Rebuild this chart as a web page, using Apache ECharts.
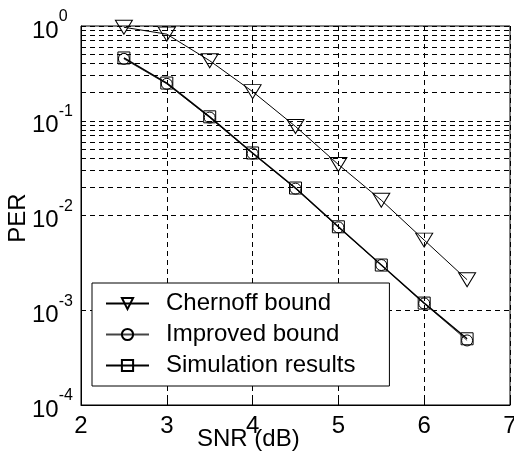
<!DOCTYPE html>
<html><head><meta charset="utf-8">
<script src="https://cdn.jsdelivr.net/npm/echarts@6/dist/echarts.min.js"></script>
<style>html,body{margin:0;padding:0;background:#fff}#c{width:514px;height:457px}</style>
</head><body><div id="c"></div>
<script>
const snr = [2.5, 3, 3.5, 4, 4.5, 5, 5.5, 6, 6.5];
const chernoff = [0.97, 0.82, 0.43, 0.203, 0.087, 0.0345, 0.0145, 0.0055, 0.0021];
const improved = [0.45, 0.245, 0.108, 0.045, 0.0192, 0.0075, 0.0030, 0.00118, 0.00048];
const simulation = [0.46, 0.25, 0.11, 0.0457, 0.0195, 0.0076, 0.0030, 0.00119, 0.0005];
const seriesNames = ['Chernoff bound', 'Improved bound', 'Simulation results'];
const xTicks = [2, 3, 4, 5, 6, 7];
const decades = [1e-4, 1e-3, 1e-2, 1e-1];
const mantissas = [2, 3, 4, 5, 6, 7, 8, 9];
const xTitle = 'SNR (dB)';
const yTitle = 'PER';

const minorLevels = [];
decades.forEach(d => mantissas.forEach(m => minorLevels.push(+(m * d).toPrecision(3))));

const FONT = 'Liberation Sans';
const FS = 24;
const pts = arr => snr.map((x, i) => [x, arr[i]]);
const hollow = {color: 'rgba(255,255,255,0)', borderColor: '#000', borderWidth: 1};

const chart = echarts.init(document.getElementById('c'), null, {renderer: 'canvas'});
chart.setOption({
  animation: false,
  backgroundColor: '#fff',
  textStyle: {fontFamily: FONT, color: '#000'},
  grid: {left: 81, right: 4, top: 26, bottom: 52, containLabel: false, outerBoundsMode: 'none',
         show: true, borderColor: '#000', borderWidth: 1, backgroundColor: 'transparent'},
  title: {text: xTitle, left: 197, top: 427, textStyle: {fontFamily: FONT, fontSize: FS, fontWeight: 'normal', color: '#000'}, padding: 0},
  graphic: [{
    type: 'text', x: 18, y: 218, rotation: Math.PI / 2,
    style: {text: yTitle, fontFamily: FONT, fontSize: FS, fill: '#000', align: 'center', verticalAlign: 'middle'}
  }],
  xAxis: {
    type: 'value', min: xTicks[0], max: xTicks[xTicks.length - 1], interval: 1,
    axisLine: {show: true, onZero: false, lineStyle: {color: '#000', width: 1}},
    axisTick: {show: true, inside: true, length: 5, lineStyle: {color: '#000'}},
    axisLabel: {fontFamily: FONT, fontSize: FS, color: '#000', margin: 9},
    splitLine: {show: true, lineStyle: {color: '#000', type: [5, 4], width: 1}}
  },
  yAxis: {
    type: 'log', logBase: 10, min: 1e-4, max: 1,
    axisLine: {show: true, lineStyle: {color: '#000', width: 1}},
    axisTick: {show: true, inside: true, length: 5, lineStyle: {color: '#000'}},
    axisLabel: {
      align: 'left', margin: 49,
      formatter: v => '{b|10}{s|' + Math.round(Math.log10(v)) + '}',
      rich: {
        b: {fontFamily: FONT, fontSize: FS, color: '#000', lineHeight: 34, verticalAlign: 'bottom'},
        s: {fontFamily: FONT, fontSize: 16, color: '#000', lineHeight: 34, verticalAlign: 'top'}
      }
    },
    splitLine: {show: true, lineStyle: {color: '#000', type: [5, 4], width: 1}}
  },
  legend: {
    orient: 'vertical', left: 92, top: 283,
    backgroundColor: '#fff', borderColor: '#000', borderWidth: 1,
    padding: [5, 34, 5, 13], itemGap: 0, itemWidth: 43, itemHeight: 14,
    textStyle: {fontFamily: FONT, fontSize: FS, color: '#000', lineHeight: 31, padding: [0, 0, 0, 12]},
    data: seriesNames
  },
  series: [
    {
      name: seriesNames[0], type: 'line', data: pts(chernoff),
      symbol: 'triangle', symbolRotate: 180, symbolSize: [17, 14],
      lineStyle: {color: '#000', width: 1}, itemStyle: hollow,
      markLine: {
        silent: true, symbol: 'none', label: {show: false},
        lineStyle: {color: '#000', type: [5, 4], width: 1},
        data: minorLevels.map(v => ({yAxis: v}))
      }
    },
    {
      name: seriesNames[1], type: 'line', data: pts(improved),
      symbol: 'circle', symbolSize: 11,
      lineStyle: {color: '#444', width: 1}, itemStyle: hollow
    },
    {
      name: seriesNames[2], type: 'line', data: pts(simulation),
      symbol: 'rect', symbolSize: 12,
      lineStyle: {color: '#000', width: 1.5}, itemStyle: hollow
    }
  ]
});
</script></body></html>
